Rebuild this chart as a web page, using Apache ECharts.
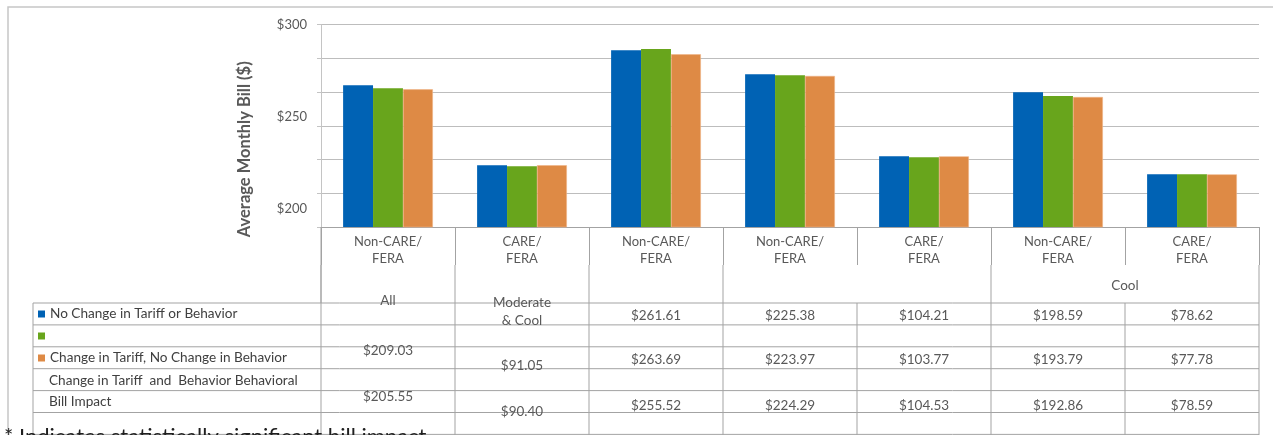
<!DOCTYPE html>
<html>
<head>
<meta charset="utf-8">
<script src="https://cdn.jsdelivr.net/npm/echarts@6/dist/echarts.min.js"></script>
<style>
  html, body { margin: 0; padding: 0; background: #ffffff; }
  #chart { width: 1273px; height: 435px; }
</style>
</head>
<body>
<div id="chart"></div>
<script>
// ---- data ----------------------------------------------------------------
const categories = [
  'Non-CARE/\nFERA', 'CARE/\nFERA', 'Non-CARE/\nFERA', 'Non-CARE/\nFERA',
  'CARE/\nFERA', 'Non-CARE/\nFERA', 'CARE/\nFERA'
];
// second-level group labels and the columns each group spans
const groupNames = ['All', 'Moderate\n& Cool', '', '', 'Cool'];
const groupSpans = [[0, 0], [1, 1], [2, 2], [3, 4], [5, 6]];

const seriesNames = [
  'No Change in Tariff or Behavior',
  'Change in Tariff and Behavior',
  'Change in Tariff, No Change in Behavior'
];
// average monthly bill per column ($)
const noChange          = [270.0, 230.5, 287.3, 275.4, 234.9, 266.5, 226.0];
const tariffAndBehavior = [268.5, 230.0, 287.9, 274.9, 234.4, 264.7, 226.0];
const tariffOnly        = [268.0, 230.5, 285.3, 274.6, 234.9, 264.2, 226.0];

const yTickLabels = [300, 250, 200];

// data table underneath the chart
const tableRowA = [null, null, 261.61, 225.38, 104.21, 198.59, 78.62];
const tableRowB = [209.03, 91.05, 263.69, 223.97, 103.77, 193.79, 77.78];
const tableRowC = [205.55, 90.40, 255.52, 224.29, 104.53, 192.86, 78.59];
const extraRowLabels = ['Change in Tariff  and  Behavior Behavioral', 'Bill Impact'];
const footnote = '* Indicates statistically significant bill impact';

// ---- styling ---------------------------------------------------------------
const FONT = 'Lato, "Open Sans", sans-serif';
const COLORS = ['#0062B4', '#68A51C', '#DE8A45'];
const TEXT = '#595959';
const LINE = '#a3a3a3';

const chart = echarts.init(document.getElementById('chart'));

function yLabel(v) {
  const keys = ['a', 'b', 'c'];
  for (let i = 0; i < yTickLabels.length; i++) {
    if (Math.abs(v - yTickLabels[i]) < 0.01) return '{' + keys[i] + '|$' + yTickLabels[i] + '}';
  }
  return '';
}
const labelToken = { fontFamily: FONT, fontSize: 13, color: TEXT };

const option = {
  animation: false,
  backgroundColor: '#ffffff',
  grid: { left: 321, right: 14, top: 24.5, bottom: 208 },
  legend: {
    orient: 'vertical', left: 38, top: 303, padding: 0, itemGap: 0,
    itemWidth: 7, itemHeight: 7, icon: 'rect', selectedMode: false,
    itemStyle: { borderWidth: 0 },
    formatter: n => (n === seriesNames[1] ? ' ' : n),
    textStyle: { fontFamily: FONT, fontSize: 13.6, color: '#404040', lineHeight: 22 }
  },
  xAxis: {
    type: 'category',
    data: categories,
    axisLine: { lineStyle: { color: LINE, width: 1 } },
    axisTick: { show: true, interval: 0, length: 38, lineStyle: { color: LINE } },
    axisLabel: { interval: 0, margin: 6, fontFamily: FONT, fontSize: 13, color: TEXT, lineHeight: 17 },
    splitLine: { show: false }
  },
  yAxis: {
    type: 'value', min: 200, max: 300, interval: 100 / 6,
    name: 'Average Monthly Bill ($)', nameLocation: 'middle', nameGap: 68, nameRotate: 90,
    nameTextStyle: { fontFamily: FONT, fontSize: 16.5, fontWeight: 'bold', color: TEXT, padding: [0, 47, 0, 0] },
    axisLine: { show: true, lineStyle: { color: '#c4c4c4' } },
    axisTick: { show: true, length: 4, lineStyle: { color: '#c4c4c4' } },
    axisLabel: {
      margin: 14, formatter: yLabel,
      rich: {
        a: Object.assign({}, labelToken),
        b: Object.assign({ padding: [0, 0, 18, 0] }, labelToken),
        c: Object.assign({ padding: [0, 0, 36, 0] }, labelToken)
      }
    },
    splitLine: { lineStyle: { color: '#bdbdbd', width: 1 } }
  },
  series: [
    {
      type: 'bar', name: seriesNames[0], data: noChange,
      barGap: '0%', barCategoryGap: '33%', itemStyle: { color: COLORS[0] },
      markLine: {
        silent: true, symbol: 'none', label: { show: false },
        lineStyle: { color: '#8f8f8f', width: 2, type: 'solid' },
        data: [[{ coord: [2.336, 283.333] }, { coord: [6.5, 283.333] }]]
      }
    },
    { type: 'bar', name: seriesNames[1], data: tariffAndBehavior, barGap: '0%', barCategoryGap: '33%', itemStyle: { color: COLORS[1] } },
    { type: 'bar', name: seriesNames[2], data: tariffOnly, barGap: '0%', barCategoryGap: '33%', itemStyle: { color: COLORS[2], borderColor: '#f0b487', borderWidth: 0.6 } }
  ]
};
chart.setOption(option);

// ---- data table, laid out from the category axis -------------------------
const base = chart.convertToPixel({ yAxisIndex: 0 }, 200);
const centers = categories.map((_, i) => chart.convertToPixel({ xAxisIndex: 0 }, i));
const band = centers[1] - centers[0];
const edges = centers.map(c => c - band / 2).concat([centers[centers.length - 1] + band / 2]);

const groupBandEnd = base + 38;    // lower end of the category ticks
const tableTop = base + 76;
const rowH = 21.9;
const rowCount = 6;
const tableBottom = tableTop + rowH * rowCount;
const legendLeft = 33;
const valueRowY = [12.7, 56.3, 103];
const colShift = [-9, 6, 0, 0, 0, 0, 0];
const groupLabelY = [74, 84.5, 0, 0, 58.7];

const g = [];
const line = (x1, y1, x2, y2, color, w) => g.push({
  type: 'line', silent: true, z: 1,
  shape: { x1, y1, x2, y2 },
  style: { stroke: color || LINE, lineWidth: w || 1 }
});
const text = (x, y, str, opts) => g.push({
  type: 'text', silent: true, z: 5, x, y,
  style: Object.assign({
    text: str, fontFamily: FONT, fontSize: 13.5, fill: TEXT,
    align: 'center', verticalAlign: 'middle'
  }, opts || {})
});

// outer frame
g.push({ type: 'rect', silent: true, z: 0, shape: { x: 8, y: 7, width: 1300, height: 500 },
  style: { fill: 'none', stroke: '#c6c6c6', lineWidth: 1.5 } });

// y axis continues down through the table
line(edges[0], base, edges[0], tableBottom + 2);

// group separators between tick ends and table top
const groupEdges = new Set();
groupSpans.forEach(s => { groupEdges.add(s[0]); groupEdges.add(s[1] + 1); });
groupEdges.forEach(i => line(edges[i], groupBandEnd, edges[i], tableTop));

// table body
for (let k = 0; k <= rowCount; k++) {
  line(legendLeft, tableTop + k * rowH, edges[edges.length - 1], tableTop + k * rowH);
}
line(legendLeft, tableTop, legendLeft, tableBottom + 2);
edges.forEach((x, i) => { if (i > 0) line(x, tableTop, x, tableBottom + 2); });

// group labels
groupSpans.forEach((s, i) => {
  if (!groupNames[i]) return;
  const cx = (edges[s[0]] + edges[s[1] + 1]) / 2;
  text(cx, base + groupLabelY[i], groupNames[i], { lineHeight: 17.5 });
});

// table values
[tableRowA, tableRowB, tableRowC].forEach((row, r) => {
  row.forEach((v, i) => {
    if (v == null) return;
    text(centers[i], tableTop + valueRowY[r] + colShift[i], '$' + v.toFixed(2));
  });
});

// extra row labels in the legend column
extraRowLabels.forEach((s, i) => {
  text(49, tableTop + rowH * (3.5 + i) + 0.5, s, { align: 'left', fill: '#404040', fontSize: 13.6 });
});

// footnote
text(4, tableBottom - 8, footnote, { align: 'left', verticalAlign: 'top', fontSize: 22, fill: '#1f1f1f' });

chart.setOption({ graphic: g });
</script>
</body>
</html>
